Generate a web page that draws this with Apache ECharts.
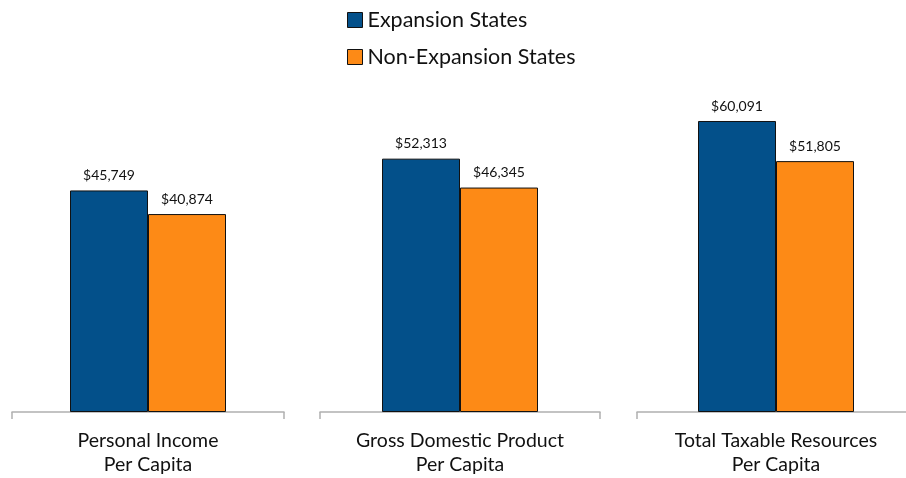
<!DOCTYPE html>
<html>
<head>
<meta charset="utf-8">
<style>
  html, body { margin: 0; padding: 0; background: #fff; overflow: hidden; }
  #chart { width: 920px; height: 478px; }
</style>
<script src="https://cdn.jsdelivr.net/npm/echarts@6/dist/echarts.min.js"></script>
</head>
<body>
<div id="chart"></div>
<script>
// Per-capita economic measures, expansion vs. non-expansion states
const categories = [
  'Personal Income\nPer Capita',
  'Gross Domestic Product\nPer Capita',
  'Total Taxable Resources\nPer Capita'
];
const seriesNames = ['Expansion States', 'Non-Expansion States'];
const expansion = [45749, 52313, 60091];
const nonExpansion = [40874, 46345, 51805];

const colors = ['#03508A', '#FD8A16'];
const font = 'Lato, "Open Sans", sans-serif';

// Each category gets its own panel so the baseline is broken between groups
const panels = [
  { left: 12, width: 272 },
  { left: 320, width: 280 },
  { left: 637, width: 278 }
];

const fmt = v => '$' + v.toLocaleString('en-US');

const grid = panels.map(p => ({ left: p.left, width: p.width, top: 73, bottom: 66 }));

const xAxis = categories.map((c, i) => ({
  type: 'category',
  gridIndex: i,
  data: [c],
  boundaryGap: true,
  axisLine: { show: true, lineStyle: { color: '#b0b0b0', width: 1.5 } },
  axisTick: { show: true, length: 7, lineStyle: { color: '#b0b0b0', width: 1.5 } },
  axisLabel: {
    color: '#111', fontSize: 19.5, fontFamily: font,
    lineHeight: 24, margin: 17, interval: 0
  }
}));

const yAxis = categories.map((c, i) => ({
  type: 'value',
  gridIndex: i,
  min: 0,
  max: 70000,
  show: false,
  splitLine: { show: false }
}));

const series = [];
[expansion, nonExpansion].forEach((vals, s) => {
  vals.forEach((v, i) => {
    series.push({
      name: seriesNames[s],
      type: 'bar',
      xAxisIndex: i,
      yAxisIndex: i,
      data: [v],
      barWidth: 78,
      barGap: '0%',
      itemStyle: { color: colors[s], borderColor: '#111', borderWidth: 1 },
      label: {
        show: true,
        position: 'top',
        distance: 8,
        formatter: p => fmt(p.value),
        color: '#111',
        fontSize: 14,
        fontFamily: font
      },
      emphasis: { disabled: true },
      animation: false
    });
  });
});

const chart = echarts.init(document.getElementById('chart'), null, { renderer: 'canvas' });
chart.setOption({
  backgroundColor: '#fff',
  animation: false,
  color: colors,
  legend: {
    data: seriesNames,
    orient: 'vertical',
    left: 347,
    top: 9,
    padding: 0,
    itemWidth: 15,
    itemHeight: 15,
    itemGap: 15,
    icon: 'rect',
    itemStyle: { borderColor: '#111', borderWidth: 1 },
    textStyle: { color: '#111', fontSize: 21.5, fontFamily: font, lineHeight: 22, padding: [0, 0, 0, 0] },
    selectedMode: false
  },
  grid,
  xAxis,
  yAxis,
  series
});
</script>
</body>
</html>
